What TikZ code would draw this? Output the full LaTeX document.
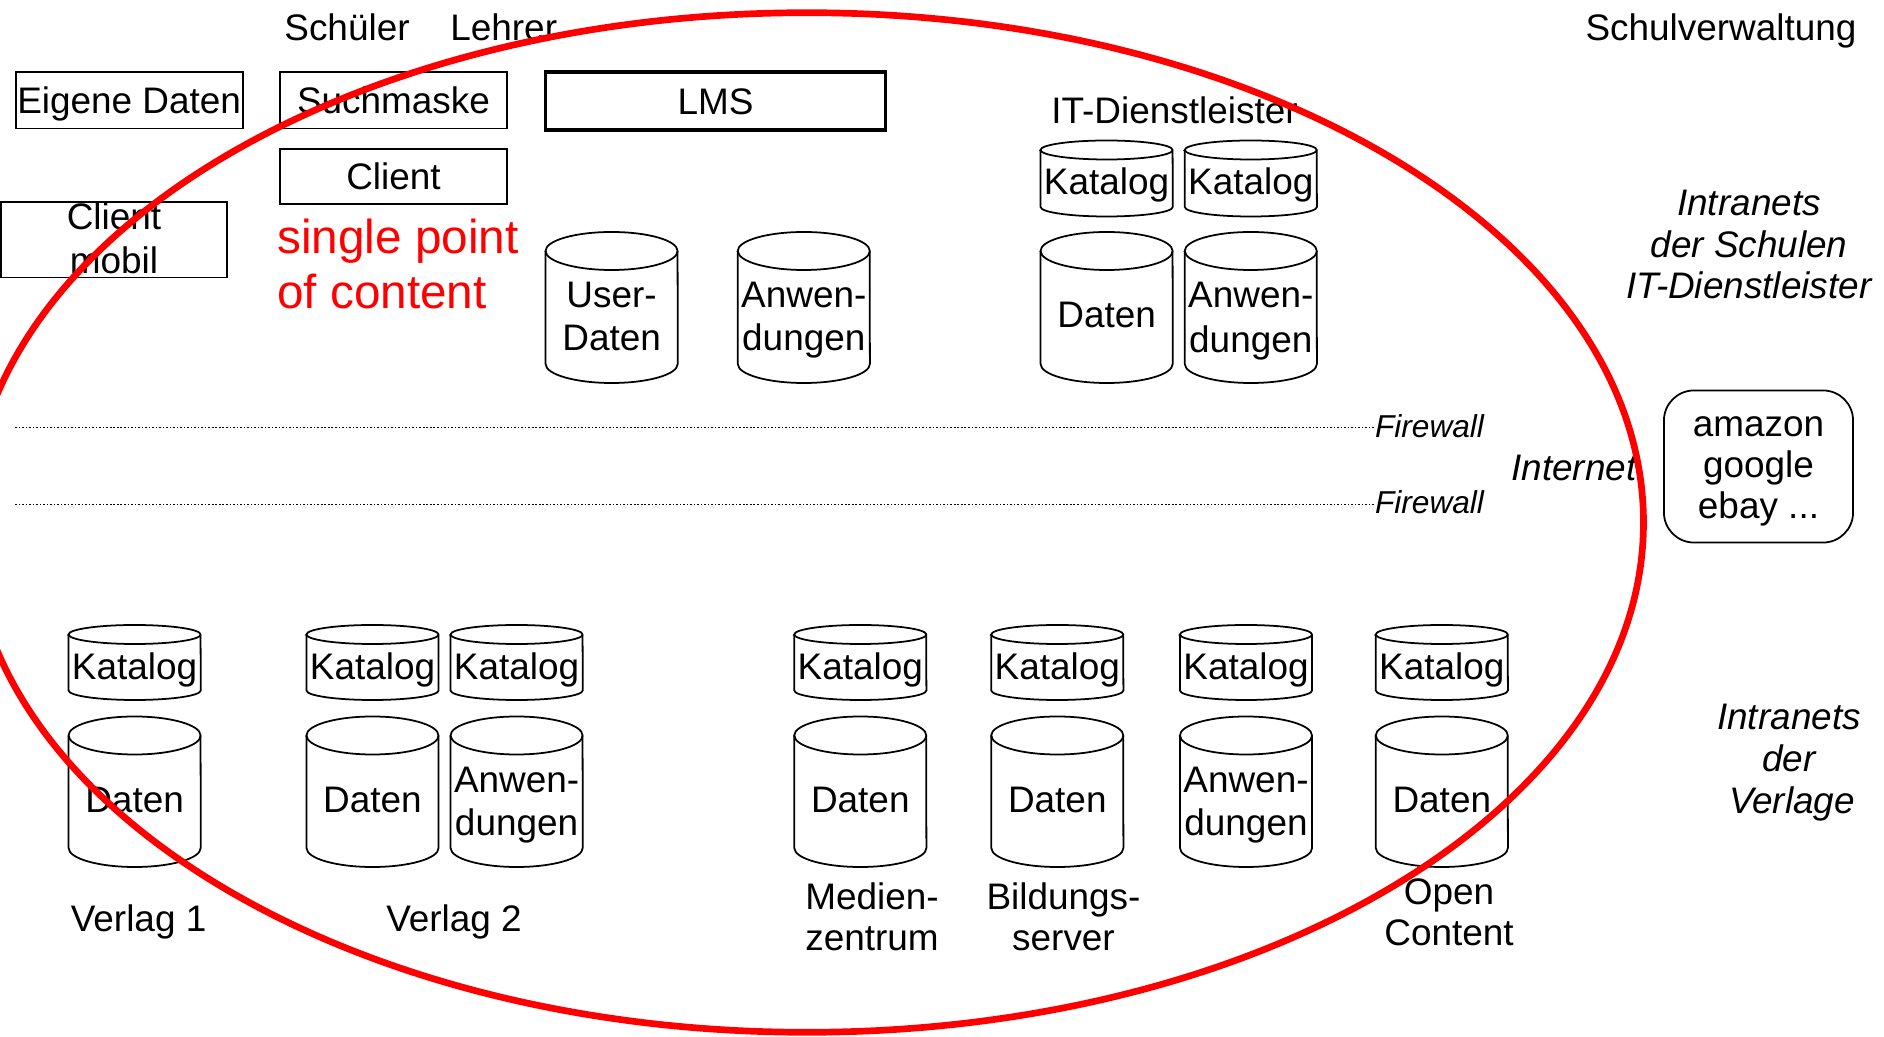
\documentclass[tikz,border=0pt]{standalone}
\usepackage{fontspec}
\setmainfont{Liberation Sans}
\newcommand\dbcyl[4]{%
  \draw[cylline] ({#1-66},{#2+#4}) -- ({#1-66},{#3-#4})
    arc[start angle=180, end angle=360, x radius=0.66cm, y radius=#4*0.01cm]
    -- ({#1+66},{#2+#4})
    arc[start angle=0, end angle=180, x radius=0.66cm, y radius=#4*0.01cm] -- cycle;
  \draw[cylfront] ({#1-66},{#2+#4})
    arc[start angle=180, end angle=360, x radius=0.66cm, y radius=#4*0.01cm];
}
\begin{document}
\begin{tikzpicture}[x=0.01cm, y=-0.01cm,
  every node/.style={inner sep=0pt, outer sep=0pt},
  lbl/.style={font=\fontsize{10.5pt}{12.6pt}\selectfont, text height=7.5pt, text depth=0pt},
  itlbl/.style={font=\fontsize{10.5pt}{12.6pt}\selectfont\itshape, text height=7.5pt, text depth=0pt},
  fwlbl/.style={anchor=west, font=\fontsize{9pt}{10.8pt}\selectfont\itshape, text height=6.45pt, text depth=0pt},
  redlbl/.style={anchor=west, text=red, font=\fontsize{13.55pt}{16pt}\selectfont, text height=9.7pt, text depth=0pt},
  box/.style={lbl, draw, line width=0.5pt, minimum width=2.27cm, minimum height=0.566cm},
  webbox/.style={draw, line width=0.5pt, rounded corners=0.3cm, minimum width=1.89cm, minimum height=1.52cm},
  cylline/.style={draw, line width=0.5pt, fill=white},
  cylfront/.style={draw, line width=0.5pt},
  fwline/.style={line width=0.45pt, dash pattern=on 0.45pt off 0.55pt},
  ring/.style={draw=red, line width=1.9pt},
]
\useasboundingbox (0,0) rectangle (1884,1037);
\clip (0,0) rectangle (1884,1037);

% top labels
\node[lbl] (schueler) at (347,27.5) {Schüler};
\node[lbl] (lehrer) at (503.7,27.5) {Lehrer};
\node[lbl] (verw) at (1721,27.5) {Schulverwaltung};

% boxes
\node[box] (eigen) at (129.2,100.3) {Eigene Daten};
\node[box] (such) at (393.5,100.3) {Suchmaske};
\node[box, line width=0.95pt, minimum width=3.4cm, minimum height=0.58cm] (lms) at (715.5,101) {LMS};
\node[box, minimum height=0.55cm] (client) at (393.5,176.5) {Client};
\node[box, minimum width=2.26cm, minimum height=0.755cm] (mobil) at (114,239.8) {};
\node[lbl] (mobil1) at (114,216.7) {Client};
\node[lbl] (mobil2) at (114,260.7) {mobil};

% red text
\node[redlbl] (spoc1) at (277.5,236.3) {single point};
\node[redlbl] (spoc2) at (277.5,291) {of content};

% LMS data
\dbcyl{611.6}{232}{383}{19}
\node[lbl] (ud1) at (611.6,294) {User-};
\node[lbl] (ud2) at (611.6,337.5) {Daten};
\dbcyl{803.8}{232}{383}{19}
\node[lbl] (la1) at (803.8,294) {Anwen-};
\node[lbl] (la2) at (803.8,337.5) {dungen};

% IT-Dienstleister
\node[lbl] (itd) at (1174.5,110) {IT-Dienstleister};
\dbcyl{1106.6}{140.5}{216.5}{9.5}
\node[lbl] (itk1) at (1106.6,181) {Katalog};
\dbcyl{1250.8}{140.5}{216.5}{9.5}
\node[lbl] (itk2) at (1250.8,181) {Katalog};
\dbcyl{1106.6}{232}{383}{19}
\node[lbl] (itdat) at (1106.6,314.3) {Daten};
\dbcyl{1250.8}{232}{383}{19}
\node[lbl] (itanw1) at (1250.8,294.6) {Anwen-};
\node[lbl] (itanw2) at (1250.8,339.3) {dungen};

% right labels
\node[itlbl] (isch1) at (1749,202.7) {Intranets};
\node[itlbl] (isch2) at (1749,244.6) {der Schulen};
\node[itlbl] (isch3) at (1749,285.7) {IT-Dienstleister};

% firewalls
\coordinate (fwa) at (15,427.5);
\coordinate (fwb) at (15,504.5);
\node[fwlbl] (fw1) at (1375,425.8) {Firewall};
\node[fwlbl] (fw2) at (1375,502.6) {Firewall};
\draw[fwline] (fwa) -- (fwa -| fw1.west);
\draw[fwline] (fwb) -- (fwb -| fw2.west);

\node[itlbl] (inet) at (1574,467.4) {Internet};
\node[webbox] (web) at (1758.5,466.5) {};
\node[lbl] (web1) at (1758.5,423.8) {amazon};
\node[lbl] (web2) at (1758.5,464.8) {google};
\node[lbl] (web3) at (1758.5,505.8) {ebay ...};

% bottom row: Kataloge
\dbcyl{134.6}{625}{700}{9.5}
\node[lbl] (k1) at (134.6,666) {Katalog};
\dbcyl{372.5}{625}{700}{9.5}
\node[lbl] (k2) at (372.5,666) {Katalog};
\dbcyl{516.6}{625}{700}{9.5}
\node[lbl] (k3) at (516.6,666) {Katalog};
\dbcyl{860.3}{625}{700}{9.5}
\node[lbl] (k4) at (860.3,666) {Katalog};
\dbcyl{1057.3}{625}{700}{9.5}
\node[lbl] (k5) at (1057.3,666) {Katalog};
\dbcyl{1246}{625}{700}{9.5}
\node[lbl] (k6) at (1246,666) {Katalog};
\dbcyl{1441.8}{625}{700}{9.5}
\node[lbl] (k7) at (1441.8,666) {Katalog};

% bottom row: data
\dbcyl{134.6}{716.5}{867}{19}
\node[lbl] (d1) at (134.6,799) {Daten};
\dbcyl{372.5}{716.5}{867}{19}
\node[lbl] (d2) at (372.5,799) {Daten};
\dbcyl{516.6}{716.5}{867}{19}
\node[lbl] (a3a) at (516.6,779) {Anwen-};
\node[lbl] (a3b) at (516.6,822) {dungen};
\dbcyl{860.3}{716.5}{867}{19}
\node[lbl] (d4) at (860.3,799) {Daten};
\dbcyl{1057.3}{716.5}{867}{19}
\node[lbl] (d5) at (1057.3,799) {Daten};
\dbcyl{1246}{716.5}{867}{19}
\node[lbl] (a6a) at (1246,779) {Anwen-};
\node[lbl] (a6b) at (1246,822) {dungen};
\dbcyl{1441.8}{716.5}{867}{19}
\node[lbl] (d7) at (1441.8,799) {Daten};

% bottom labels
\node[lbl] (v1) at (138.6,918) {Verlag 1};
\node[lbl] (v2) at (454,918) {Verlag 2};
\node[lbl] (mz1) at (872,896.8) {Medien-};
\node[lbl] (mz2) at (872,937.8) {zentrum};
\node[lbl] (bs1) at (1063.5,896.8) {Bildungs-};
\node[lbl] (bs2) at (1063.5,937.8) {server};
\node[lbl] (oc1) at (1449,891) {Open};
\node[lbl] (oc2) at (1449,932) {Content};

\node[itlbl] (iv1) at (1789,716) {Intranets};
\node[itlbl] (iv2) at (1789,758) {der};
\node[itlbl] (iv3) at (1792,800) {Verlage};

% red ring
\draw[ring] (807,522.5) ellipse[x radius=8.36cm, y radius=5.095cm];
\end{tikzpicture}
\end{document}
